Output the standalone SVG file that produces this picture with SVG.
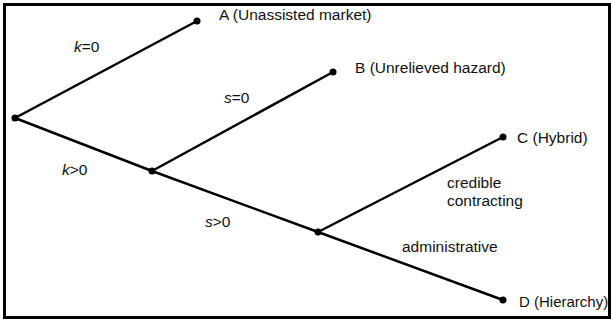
<svg xmlns="http://www.w3.org/2000/svg" width="611" height="320" viewBox="0 0 611 320">
<style>
.edge{stroke:#000;stroke-width:2.5;fill:none;stroke-linecap:round}
.dot{fill:#000}
text{font-family:"Liberation Sans",Arial,sans-serif;font-size:15.5px;fill:#111}
.it{font-style:italic}
</style>
<rect x="4.5" y="4.5" width="605" height="313" fill="#fff" stroke="#000" stroke-width="3"/>
<g id="connectors">
<line class="edge" x1="15" y1="118" x2="197" y2="21"/>
<line class="edge" x1="15" y1="118" x2="152" y2="171"/>
<line class="edge" x1="152" y1="171" x2="333" y2="72"/>
<line class="edge" x1="152" y1="171" x2="318" y2="232"/>
<line class="edge" x1="318" y1="232" x2="503" y2="137"/>
<line class="edge" x1="318" y1="232" x2="503" y2="300"/>
<text x="74" y="52"><tspan class="it">k</tspan>=0</text>
<text x="62" y="175"><tspan class="it">k</tspan>&gt;0</text>
<text x="224" y="103"><tspan class="it">s</tspan>=0</text>
<text x="205" y="227"><tspan class="it">s</tspan>&gt;0</text>
<text x="447" y="188">credible</text>
<text x="447" y="206">contracting</text>
<text x="402" y="252">administrative</text>
</g>
<g id="root"><circle class="dot" cx="15" cy="118" r="3.5"/></g>
<g id="n2"><circle class="dot" cx="152" cy="171" r="3.5"/></g>
<g id="n3"><circle class="dot" cx="318" cy="232" r="3.5"/></g>
<g id="A"><circle class="dot" cx="197" cy="21" r="3.5"/><text x="219" y="20">A (Unassisted market)</text></g>
<g id="B"><circle class="dot" cx="333" cy="72" r="3.5"/><text x="355" y="73">B (Unrelieved hazard)</text></g>
<g id="C"><circle class="dot" cx="503" cy="137" r="3.5"/><text x="517" y="143">C (Hybrid)</text></g>
<g id="D"><circle class="dot" cx="503" cy="300" r="3.5"/><text x="519" y="307" style="font-size:15px">D (Hierarchy)</text></g>
</svg>
